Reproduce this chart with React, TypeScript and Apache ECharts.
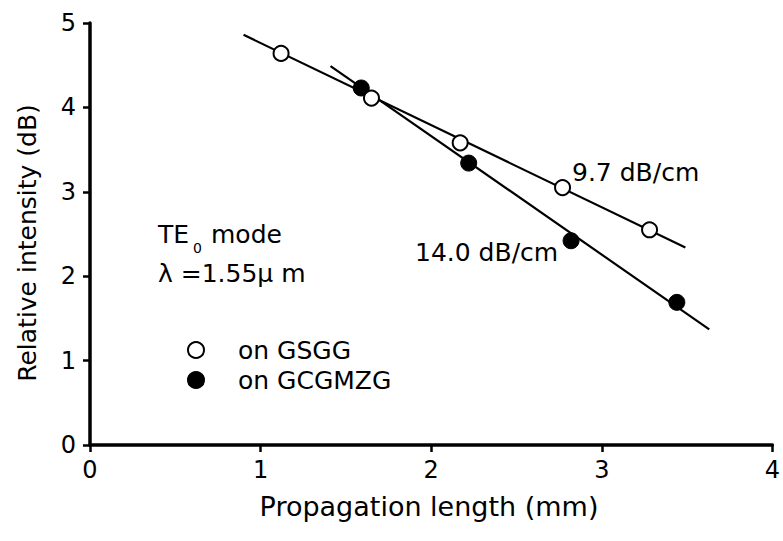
import React, { useEffect, useRef } from "react";
import * as echarts from "echarts";

// Measured data (propagation length in mm, relative intensity in dB)
const gsggX = [1.12, 1.65, 2.17, 2.77, 3.28];
const gsggY = [4.64, 4.11, 3.58, 3.05, 2.55];
const gcgX = [1.59, 2.22, 2.82, 3.44];
const gcgY = [4.23, 3.34, 2.42, 1.69];

// Fitted lines (end points)
const fitGsggX = [0.9, 3.49];
const fitGsggY = [4.86, 2.34];
const fitGcgX = [1.41, 3.63];
const fitGcgY = [4.49, 1.37];

const seriesNames = ["on GSGG", "on GCGMZG"];
const slopeLabels = ["9.7 dB/cm", "14.0 dB/cm"];
const xTicks = [0, 1, 2, 3, 4];
const yTicks = [0, 1, 2, 3, 4, 5];

const FONT = "DejaVu Sans";

const pairs = (xs: number[], ys: number[]) => xs.map((x, i) => [x, ys[i]]);

export default function App() {
  const ref = useRef<HTMLDivElement>(null);
  useEffect(() => {
    if (!ref.current) return;
    const chart = echarts.init(ref.current, undefined, { renderer: "svg" });
    const axisCommon = {
      axisLine: { show: true, lineStyle: { color: "#000", width: 3.5 } },
      axisTick: { show: true, inside: false, length: 7, lineStyle: { color: "#000", width: 2.5 } },
      splitLine: { show: false },
      axisLabel: { color: "#000", fontFamily: FONT, fontSize: 24 },
    };
    chart.setOption({
      animation: false,
      backgroundColor: "#fff",
      grid: { left: 90, right: 9, top: 23, bottom: 96, containLabel: false },
      xAxis: {
        type: "value",
        min: xTicks[0],
        max: xTicks[xTicks.length - 1],
        interval: 1,
        ...axisCommon,
        axisLabel: { ...axisCommon.axisLabel, margin: 13 },
      },
      yAxis: {
        type: "value",
        min: yTicks[0],
        max: yTicks[yTicks.length - 1],
        interval: 1,
        ...axisCommon,
        axisLabel: { ...axisCommon.axisLabel, margin: 14 },
      },
      legend: {
        data: seriesNames,
        orient: "vertical",
        left: 182,
        top: 331,
        itemWidth: 16,
        itemHeight: 16,
        itemGap: 2,
        textStyle: {
          color: "#000",
          fontFamily: FONT,
          fontSize: 25,
          lineHeight: 28,
          padding: [0, 0, 0, 29],
        },
      },
      series: [
        {
          type: "line",
          name: "fit GSGG",
          data: pairs(fitGsggX, fitGsggY),
          showSymbol: false,
          symbol: "none",
          lineStyle: { color: "#000", width: 2.2 },
          silent: true,
          z: 1,
        },
        {
          type: "line",
          name: "fit GCGMZG",
          data: pairs(fitGcgX, fitGcgY),
          showSymbol: false,
          symbol: "none",
          lineStyle: { color: "#000", width: 2.2 },
          silent: true,
          z: 1,
        },
        {
          type: "scatter",
          name: seriesNames[1],
          data: pairs(gcgX, gcgY),
          symbol: "circle",
          symbolSize: 16,
          itemStyle: { color: "#000", borderColor: "#000", borderWidth: 1, opacity: 1 },
          z: 3,
        },
        {
          type: "scatter",
          name: seriesNames[0],
          data: pairs(gsggX, gsggY),
          symbol: "circle",
          symbolSize: 15,
          itemStyle: { color: "#fff", borderColor: "#000", borderWidth: 2, opacity: 1 },
          z: 4,
        },
      ],
      graphic: [
        {
          type: "text",
          x: 572,
          y: 172,
          style: { text: slopeLabels[0], font: `25px '${FONT}'`, fill: "#000", verticalAlign: "middle", align: "left" },
        },
        {
          type: "text",
          x: 415,
          y: 252,
          style: { text: slopeLabels[1], font: `25px '${FONT}'`, fill: "#000", verticalAlign: "middle", align: "left" },
        },
        {
          type: "text",
          x: 158,
          y: 234,
          style: { text: "TE", font: `25px '${FONT}'`, fill: "#000", verticalAlign: "middle", align: "left" },
        },
        {
          type: "text",
          x: 193,
          y: 248,
          style: { text: "0", font: `14px '${FONT}'`, fill: "#000", verticalAlign: "middle", align: "left" },
        },
        {
          type: "text",
          x: 211,
          y: 234,
          style: { text: "mode", font: `25px '${FONT}'`, fill: "#000", verticalAlign: "middle", align: "left" },
        },
        {
          type: "text",
          x: 158,
          y: 273,
          style: { text: "λ =1.55μ m", font: `25px '${FONT}'`, fill: "#000", verticalAlign: "middle", align: "left" },
        },
        {
          type: "text",
          x: 429,
          y: 506,
          style: { text: "Propagation length (mm)", font: `27px '${FONT}'`, fill: "#000", verticalAlign: "middle", align: "center" },
        },
        {
          type: "text",
          x: 27,
          y: 243,
          rotation: Math.PI / 2,
          style: { text: "Relative intensity (dB)", font: `25px '${FONT}'`, fill: "#000", verticalAlign: "middle", align: "center" },
        },
      ],
    });
    return () => chart.dispose();
  }, []);
  return <div ref={ref} style={{ width: 783, height: 541, position: "absolute", left: 0, top: 0 }} />;
}
